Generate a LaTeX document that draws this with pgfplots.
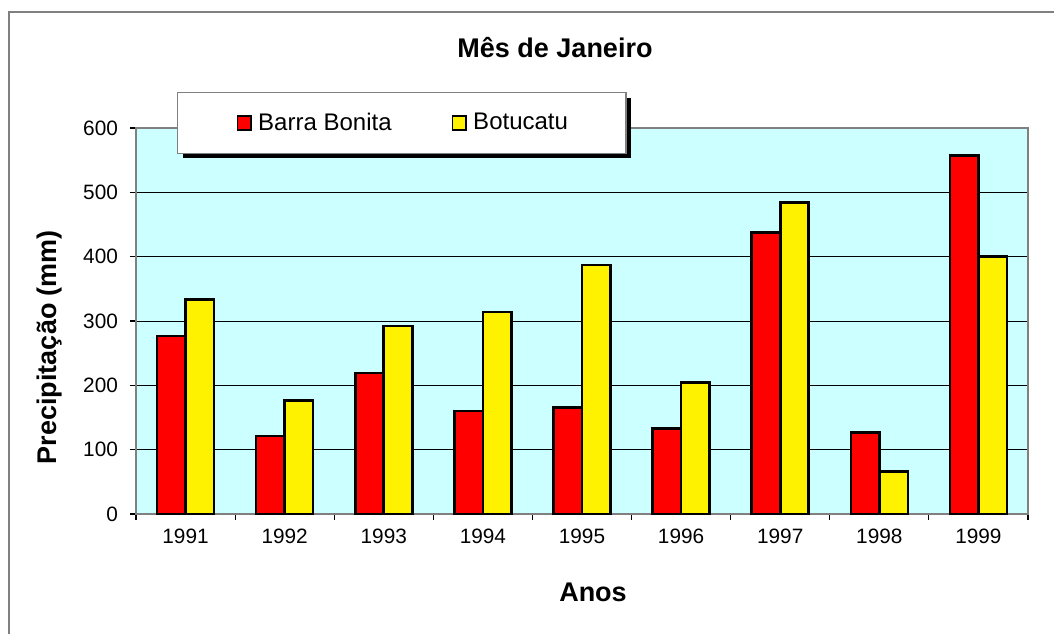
\documentclass[border=0pt]{standalone}
\usepackage{pgfplots}
\pgfplotsset{compat=1.18}
\usepackage{fontspec}
\setmainfont{Liberation Sans}
\usetikzlibrary{shadows}
\definecolor{plotbg}{RGB}{204,255,255}
\definecolor{frame}{RGB}{128,128,128}

% legend square drawn with the basic layer, so the legend's drop shadow is not inherited
\newcommand{\legsquare}[1]{%
  \pgfpathrectangle{\pgfpoint{-3pt}{0pt}}{\pgfpoint{11.3pt}{0pt}}\pgfusepath{use as bounding box}%
  \pgfsetfillcolor{#1}\pgfsetstrokecolor{black}\pgfsetlinewidth{0.8pt}%
  \pgfpathrectangle{\pgfpoint{0pt}{-3.4pt}}{\pgfpoint{6.8pt}{6.8pt}}\pgfusepath{fill,stroke}}

\begin{document}
\begin{tikzpicture}
\useasboundingbox (0,0) rectangle (527pt,-317pt);
\draw[frame, line width=0.6pt] (4.5pt,-317pt) -- (4.5pt,-6pt) -- (527pt,-6pt);

\begin{axis}[
    at={(68pt,-257pt)}, anchor=south west,
    scale only axis, width=446pt, height=193pt,
    ybar=0pt, bar width=14.25pt,
    xmin=-0.5, xmax=8.5, ymin=0, ymax=600,
    xtick={-0.5,0.5,...,8.5},
    x tick label as interval,
    xticklabels={1991,1992,1993,1994,1995,1996,1997,1998,1999},
    ytick={0,100,...,600},
    tick align=outside, major tick length=3pt,
    tick style={black, line width=0.6pt},
    xtick pos=bottom, ytick pos=left,
    ymajorgrids, grid style={black, line width=0.5pt},
    axis background/.style={fill=plotbg},
    axis line style={frame, line width=0.9pt},
    /pgf/number format/assume math mode=true,
    tick label style={font=\fontsize{10.4}{12}\selectfont},
    xticklabel style={yshift=-1pt},
    yticklabel style={xshift=-2.5pt},
    legend style={
      at={(0.046,1.093)}, anchor=north west,
      draw=frame, fill=white, line width=0.6pt,
      drop shadow={shadow xshift=2.5pt, shadow yshift=-2.5pt, opacity=1, fill=black},
      font=\fontsize{12}{14}\selectfont,
      inner xsep=27pt, inner ysep=8pt,
      /tikz/every even column/.append style={column sep=25.5pt},
    },
    legend columns=2,
  ]
  \addplot[fill=red, draw=black, line width=1.3pt,
    legend image code/.code={\legsquare{red}}]
    coordinates {(0,277)(1,121)(2,219)(3,160)(4,166)(5,133)(6,438)(7,127)(8,557)};
  \addlegendentry{Barra Bonita}
  \addplot[fill=yellow, draw=black, line width=1.3pt,
    legend image code/.code={\legsquare{yellow}}]
    coordinates {(0,333)(1,176)(2,292)(3,314)(4,387)(5,204)(6,484)(7,66)(8,400)};
  \addlegendentry{Botucatu}
\end{axis}

\node[font=\fontsize{13.5}{16}\selectfont\bfseries] at (277.5pt,-24pt) {Mês de Janeiro};
\node[font=\fontsize{13.5}{16}\selectfont\bfseries, rotate=90] at (25pt,-173.5pt) {Precipitação (mm)};
\node[font=\fontsize{13.5}{16}\selectfont\bfseries] at (296.5pt,-296pt) {Anos};
\end{tikzpicture}
\end{document}
